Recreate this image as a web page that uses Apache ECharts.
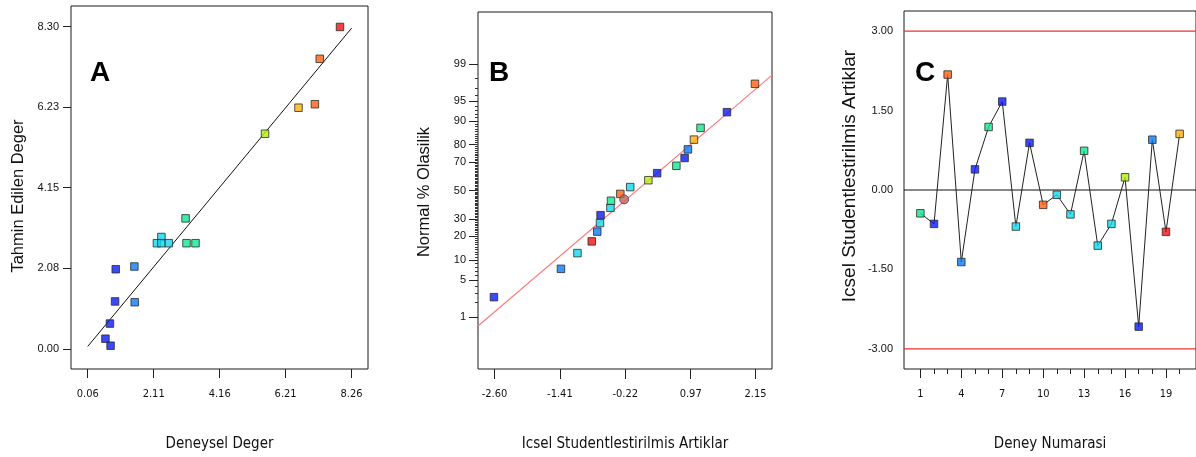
<!DOCTYPE html>
<html><head><meta charset="utf-8">
<script src="https://cdn.jsdelivr.net/npm/echarts@6/dist/echarts.min.js"></script>
<style>html,body{margin:0;padding:0;background:#fff}#c{width:1196px;height:457px}</style>
</head><body><div id="c"></div>
<script>
// ---------- DATA ----------
// Panel A: experimental vs predicted
const xTicksA = [0.06, 2.11, 4.16, 6.21, 8.26];
const yTicksA = [0.00, 2.08, 4.15, 6.23, 8.30];
const actualA    = [7.90, 7.27, 7.12, 6.61, 5.57, 3.10, 2.35, 2.21, 2.35, 2.58, 3.13, 3.41, 1.51, 0.93, 0.91, 1.52, 0.75, 0.61, 0.77];
const predictedA = [8.29, 7.47, 6.30, 6.21, 5.54, 3.36, 2.88, 2.72, 2.72, 2.72, 2.72, 2.72, 2.12, 2.05, 1.22, 1.20, 0.65, 0.26, 0.08];
const lineA = [[0.06, 0.06], [8.26, 8.26]];
// Panel B: normal probability of internally studentized residuals
const xTicksB = [-2.60, -1.41, -0.22, 0.97, 2.15];
const probTicksB = [1, 5, 10, 20, 30, 50, 70, 80, 90, 95, 99];
const probMinorB = [2,3,4,6,7,8,9].concat(Array.from({length:79},(_,i)=>i+11)).concat([91,92,93,94,96,97,98]);
const residB = [-2.61, -1.39, -1.09, -0.83, -0.73, -0.68, -0.67, -0.49, -0.48, -0.31, -0.13, 0.20, 0.36, 0.71, 0.86, 0.92, 1.03, 1.15, 1.63, 2.14];
const probB  = [2.5, 7.5, 12.5, 17.5, 22.5, 27.5, 32.5, 37.5, 42.5, 47.5, 52.5, 57.5, 62.5, 67.5, 72.5, 77.5, 82.5, 87.5, 92.5, 97.5];
const circleB = [[-0.24, 43.5]];
const lineB = [[-2.90, -2.49], [2.45, 2.12]]; // residual, normal score
// Panel C: residuals vs run number
const runsC = [1,2,3,4,5,6,7,8,9,10,11,12,13,14,15,16,17,18,19,20];
const runLabelsC = [1, 4, 7, 10, 13, 16, 19];
const residC = [-0.44, -0.64, 2.18, -1.36, 0.39, 1.19, 1.67, -0.69, 0.89, -0.28, -0.09, -0.46, 0.74, -1.05, -0.64, 0.24, -2.58, 0.95, -0.79, 1.06];
const yTicksC = [-3.00, -1.50, 0.00, 1.50, 3.00];
const limitsC = [3.00, -3.00];
const xRangeC = [-0.2, 21.2];
// Axis titles
const titlesX = ['Deneysel Deger', 'Icsel Studentlestirilmis Artiklar', 'Deney Numarasi'];
const titlesY = ['Tahmin Edilen Deger', 'Normal % Olasilik', 'Icsel Studentlestirilmis Artiklar'];
const panelTags = ['A', 'B', 'C'];

// ---------- STYLES ----------
const COL = {b:'#0a1cf5', lb:'#0a7cf5', c:'#10d8f0', g:'#10e890', yg:'#b4ee10', yo:'#ffb010', o:'#ff6010', r:'#f01010'};
const colA = ['r','o','o','yo','yg','g','c','c','c','c','g','g','lb','b','b','lb','b','b','b'];
const colB = ['b','lb','c','r','lb','c','b','c','g','o','c','yg','b','g','b','lb','yo','g','b','o'];
const colC = ['g','b','o','lb','b','g','b','c','b','o','c','c','g','c','c','yg','b','lb','r','yo'];

const COND = '"DejaVu Sans Condensed","Liberation Sans",sans-serif';
const REG = '"Liberation Sans",Arial,sans-serif';

// inverse normal CDF (Acklam)
function probit(p){
  const a=[-3.969683028665376e+01,2.209460984245205e+02,-2.759285104469687e+02,1.383577518672690e+02,-3.066479806614716e+01,2.506628277459239e+00];
  const b=[-5.447609879822406e+01,1.615858368580409e+02,-1.556989798598866e+02,6.680131188771972e+01,-1.328068155288572e+01];
  const c=[-7.784894002430293e-03,-3.223964580411365e-01,-2.400758277161838e+00,-2.549732539343734e+00,4.374664141464968e+00,2.938163982698783e+00];
  const d=[7.784695709041462e-03,3.224671290700398e-01,2.445134137142996e+00,3.754408661907416e+00];
  const pl=0.02425, ph=1-pl; let q,r;
  if(p<pl){q=Math.sqrt(-2*Math.log(p));return (((((c[0]*q+c[1])*q+c[2])*q+c[3])*q+c[4])*q+c[5])/((((d[0]*q+d[1])*q+d[2])*q+d[3])*q+1);}
  if(p<=ph){q=p-0.5;r=q*q;return (((((a[0]*r+a[1])*r+a[2])*r+a[3])*r+a[4])*r+a[5])*q/(((((b[0]*r+b[1])*r+b[2])*r+b[3])*r+b[4])*r+1);}
  q=Math.sqrt(-2*Math.log(1-p));return -(((((c[0]*q+c[1])*q+c[2])*q+c[3])*q+c[4])*q+c[5])/((((d[0]*q+d[1])*q+d[2])*q+d[3])*q+1);
}
const zTicksB = probTicksB.map(p=>probit(p/100));
const zMinorB = probMinorB.map(p=>probit(p/100));

const sq = (x,y,k)=>({value:[x,y], itemStyle:{color:COL[k]}});
const markerStyle = {borderColor:'#2a2a2a', borderWidth:1};

const frame = {show:true, borderColor:'#1a1a1a', borderWidth:1, backgroundColor:'#fff'};
function valAxis(o){
  return Object.assign({type:'value', scale:true, splitLine:{show:false}, axisLine:{show:false, onZero:false},
    nameLocation:'middle', nameTextStyle:{color:'#111', fontFamily:REG, fontSize:16}}, o);
}
const xName = {color:'#111', fontFamily:COND, fontSize:15};
const xLabel = (vals, fmt)=>({customValues:vals, color:'#111', fontFamily:COND, fontSize:11, margin:20, formatter:fmt});
const yLabel = (vals, fmt)=>({customValues:vals, color:'#111', fontFamily:REG, fontSize:11, margin:12, formatter:fmt});
const yTitle = (txt, x, y, size)=>({type:'text', x:x, y:y, rotation:Math.PI/2,
  style:{text:txt, fill:'#111', font:size+'px "Liberation Sans", Arial, sans-serif', align:'center', verticalAlign:'middle'}});
const tag = (txt, x)=>({type:'text', left:x, top:59, style:{text:txt, font:'bold 28px "Liberation Sans", Arial, sans-serif', fill:'#000'}});

const option = {
  animation:false,
  backgroundColor:'#fff',
  grid:[
    Object.assign({left:71, top:6, width:297, height:364}, frame),
    Object.assign({left:478, top:12, width:294, height:359}, frame),
    Object.assign({left:904, top:11, right:-2, height:361}, frame)
  ],
  xAxis:[
    valAxis({gridIndex:0, min:-0.46, max:8.77, name:titlesX[0], nameGap:68, nameTextStyle:xName,
      axisTick:{show:true, customValues:xTicksA, length:9, lineStyle:{color:'#222'}},
      axisLabel:xLabel(xTicksA, v=>v.toFixed(2))}),
    valAxis({gridIndex:1, min:-2.90, max:2.45, name:titlesX[1], nameGap:68, nameTextStyle:xName,
      axisTick:{show:true, customValues:xTicksB, length:10, lineStyle:{color:'#222'}},
      axisLabel:xLabel(xTicksB, v=>v.toFixed(2))}),
    valAxis({gridIndex:2, min:xRangeC[0], max:xRangeC[1], name:titlesX[2], nameGap:68, nameTextStyle:xName,
      axisTick:{show:true, customValues:runLabelsC, length:9, lineStyle:{color:'#222'}},
      axisLabel:xLabel(runLabelsC, v=>String(Math.round(v)))}),
    valAxis({gridIndex:2, min:xRangeC[0], max:xRangeC[1], position:'bottom',
      axisTick:{show:true, customValues:runsC, length:5, lineStyle:{color:'#222'}},
      axisLabel:{show:false}})
  ],
  yAxis:[
    valAxis({gridIndex:0, min:-0.52, max:8.83,
      axisTick:{show:true, customValues:yTicksA, length:8, lineStyle:{color:'#222'}},
      axisLabel:yLabel(yTicksA, v=>v.toFixed(2))}),
    valAxis({gridIndex:1, min:-3.28, max:3.28,
      axisTick:{show:true, customValues:zTicksB, length:9, lineStyle:{color:'#222'}},
      axisLabel:yLabel(zTicksB, v=>{let best=0,bd=1e9;zTicksB.forEach((z,i)=>{const d=Math.abs(z-v);if(d<bd){bd=d;best=i;}});return String(probTicksB[best]);})}),
    valAxis({gridIndex:1, min:-3.28, max:3.28, position:'left',
      axisTick:{show:true, customValues:zMinorB, length:3, lineStyle:{color:'#333'}},
      axisLabel:{show:false}}),
    valAxis({gridIndex:2, min:-3.38, max:3.38,
      axisTick:{show:false},
      axisLabel:Object.assign(yLabel(yTicksC, v=>v.toFixed(2)), {margin:11})})
  ],
  graphic:[
    tag(panelTags[0], 90), tag(panelTags[1], 489), tag(panelTags[2], 915),
    yTitle(titlesY[0], 18, 196, 16.5),
    yTitle(titlesY[1], 424, 192, 16.5),
    yTitle(titlesY[2], 850, 176, 19)
  ],
  series:[
    {type:'line', xAxisIndex:0, yAxisIndex:0, data:lineA, symbol:'none', lineStyle:{color:'#111', width:1}, silent:true, z:1},
    {type:'scatter', xAxisIndex:0, yAxisIndex:0, symbol:'rect', symbolSize:7.5, itemStyle:markerStyle, z:3,
      data:actualA.map((x,i)=>sq(x, predictedA[i], colA[i]))},

    {type:'line', xAxisIndex:1, yAxisIndex:1, data:lineB, symbol:'none', lineStyle:{color:'#ff7a7a', width:1.2}, silent:true, z:1},
    {type:'scatter', xAxisIndex:1, yAxisIndex:1, symbol:'rect', symbolSize:7.5, itemStyle:markerStyle, z:3,
      data:residB.map((x,i)=>sq(x, probit(probB[i]/100), colB[i]))},
    {type:'scatter', xAxisIndex:1, yAxisIndex:1, symbol:'circle', symbolSize:9, itemStyle:{color:'#c46060', borderColor:'#444', borderWidth:1}, z:4,
      data:circleB.map(d=>[d[0], probit(d[1]/100)])},

    // limit lines and zero line in C
    {type:'line', xAxisIndex:2, yAxisIndex:3, data:[[xRangeC[0], limitsC[0]],[xRangeC[1], limitsC[0]]], symbol:'none', lineStyle:{color:'#f03030', width:1.2}, silent:true, z:1},
    {type:'line', xAxisIndex:2, yAxisIndex:3, data:[[xRangeC[0], limitsC[1]],[xRangeC[1], limitsC[1]]], symbol:'none', lineStyle:{color:'#f03030', width:1.2}, silent:true, z:1},
    {type:'line', xAxisIndex:2, yAxisIndex:3, data:[[xRangeC[0], 0],[xRangeC[1], 0]], symbol:'none', lineStyle:{color:'#111', width:1.2}, silent:true, z:1},

    {type:'line', xAxisIndex:2, yAxisIndex:3, data:runsC.map((r,i)=>[r, residC[i]]), symbol:'none',
      lineStyle:{color:'#222', width:1}, z:2, silent:true},
    {type:'scatter', xAxisIndex:2, yAxisIndex:3, symbol:'rect', symbolSize:7.5, itemStyle:markerStyle, z:3,
      data:runsC.map((r,i)=>sq(r, residC[i], colC[i]))}
  ]
};
echarts.init(document.getElementById('c'), null, {renderer:'canvas'}).setOption(option);
</script>
</body></html>
